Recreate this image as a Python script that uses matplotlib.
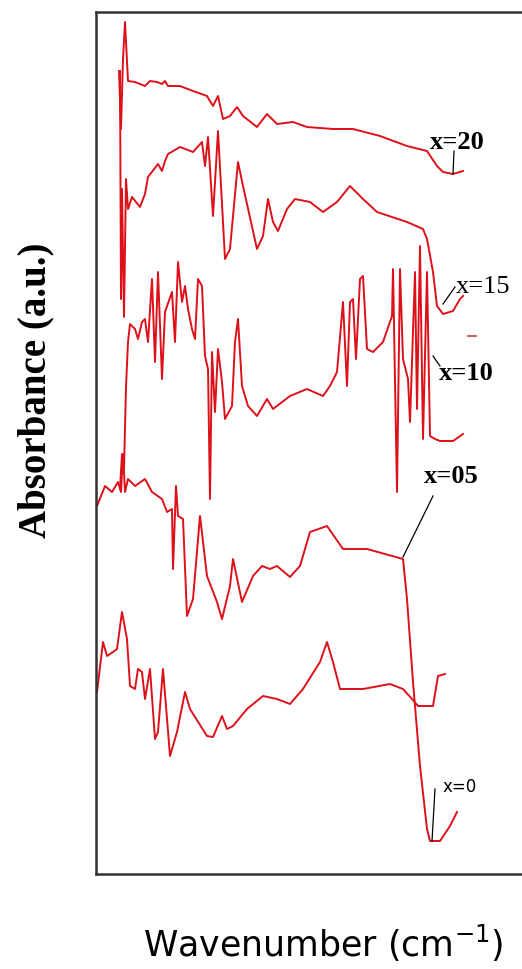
import matplotlib
matplotlib.use('Agg')
import matplotlib.pyplot as plt

# values (x: position along wavenumber axis, y: absorbance, both in image units)
x20_x = [119, 121, 123, 125, 128, 135, 145, 150, 157, 162, 165, 168, 175, 180, 193, 207, 213, 218, 223, 230,
         237, 243, 257, 267, 277, 293, 307, 333, 353, 380, 407, 427, 437, 443, 453, 463]
x20_y = [72, 130, 60, 23, 82, 83, 87, 82, 83, 85, 82, 87, 87, 87, 92, 97, 107, 97, 120, 117,
         108, 117, 128, 115, 125, 123, 128, 130, 130, 137, 147, 152, 167, 173, 175, 172]

x15_x = [120, 121, 122, 124, 126, 128, 132, 140, 145, 148, 158, 162, 165, 168, 180, 193, 202, 205, 208, 213,
         218, 225, 230, 238, 243, 257, 263, 268, 273, 278, 287, 295, 310, 323, 337, 350, 363, 377, 407, 423,
         427, 433, 437, 443, 453, 460, 463]
x15_y = [72, 300, 190, 318, 180, 210, 198, 208, 195, 178, 165, 172, 162, 155, 148, 153, 143, 167, 138, 217,
         132, 260, 250, 163, 187, 250, 237, 200, 223, 232, 210, 200, 203, 213, 203, 187, 200, 213, 223, 230,
         240, 273, 307, 315, 312, 300, 297]

x10_x = [120, 122, 124, 126, 128, 130, 135, 138, 142, 145, 148, 152, 155, 158, 162, 165, 172, 175, 178, 182,
         185, 188, 192, 195, 198, 202, 205, 208, 210, 212, 215, 218, 222, 225, 232, 235, 238, 242, 248, 257,
         267, 273, 290, 307, 323, 330, 337, 343, 347, 350, 353, 356, 360, 363, 367, 373, 383, 392, 393, 397,
         400, 403, 408, 410, 415, 417, 420, 423, 427, 430, 435, 440, 453, 463]
x10_y = [490, 455, 470, 388, 343, 325, 330, 340, 323, 320, 343, 280, 363, 273, 380, 313, 293, 343, 263, 303,
         287, 310, 330, 340, 280, 287, 357, 370, 500, 353, 413, 350, 383, 420, 407, 343, 320, 387, 407, 417,
         400, 410, 397, 390, 397, 387, 373, 303, 387, 303, 300, 360, 280, 277, 350, 353, 343, 317, 270, 493,
         270, 360, 380, 423, 273, 410, 247, 440, 273, 437, 440, 442, 442, 435]

x05_x = [97, 105, 112, 118, 121, 123, 125, 128, 135, 145, 152, 162, 167, 172, 173, 176, 178, 183, 187, 193,
         200, 207, 217, 222, 230, 233, 242, 253, 262, 270, 277, 290, 300, 310, 327, 343, 367, 403, 407, 413,
         420, 427, 430, 440, 450, 457]
x05_y = [507, 487, 493, 483, 493, 455, 493, 480, 487, 480, 493, 500, 513, 510, 570, 487, 517, 520, 617, 600,
         517, 577, 603, 620, 587, 560, 603, 577, 567, 570, 567, 578, 567, 533, 527, 550, 550, 560, 600, 683,
         767, 830, 842, 842, 827, 813]

x0_x = [97, 103, 107, 113, 117, 122, 127, 130, 135, 138, 142, 145, 150, 155, 158, 163, 170, 177, 185, 190,
        207, 213, 222, 227, 233, 247, 263, 277, 290, 303, 320, 327, 333, 340, 363, 390, 403, 412, 418, 433,
        438, 445]
x0_y = [693, 643, 657, 653, 650, 613, 640, 687, 690, 670, 673, 700, 670, 740, 733, 670, 757, 733, 693, 710,
        737, 738, 717, 730, 727, 710, 697, 700, 705, 690, 663, 643, 663, 690, 690, 685, 690, 700, 707, 707,
        677, 675]

labels = ['x=20', 'x=15', 'x=10', 'x=05', 'x=0']
label_pos = [(430, 142), (456, 287), (439, 373), (424, 477), (443, 787)]
pointers = [((454, 152), (453, 175)), ((455, 288), (443, 305)), ((433, 357), (440, 367)),
            ((433, 497), (403, 558)), ((435, 790), (432, 842))]

fig = plt.figure(figsize=(5.22, 9.70), dpi=100)
ax = fig.add_axes([96 / 522, 95 / 970, 1.05 - 96 / 522, 862.5 / 970])

red = '#dc1119'
for xs, ys in [(x20_x, x20_y), (x15_x, x15_y), (x10_x, x10_y), (x05_x, x05_y), (x0_x, x0_y)]:
    ax.plot(xs, ys, color=red, lw=1.4)

for (p0, p1) in pointers:
    ax.plot([p0[0], p1[0]], [p0[1], p1[1]], color='black', lw=0.9)
ax.plot([468, 476], [337, 337], color='#c04040', lw=1.2)

for lab, pos in zip(labels, label_pos):
    if lab == 'x=0':
        ax.text(pos[0], pos[1], lab, fontsize=12, family='DejaVu Sans', va='center', ha='left')
    else:
        ax.text(pos[0], pos[1], lab, fontsize=19, family='Liberation Serif',
                weight='normal' if lab == 'x=15' else 'bold', va='center', ha='left')

ax.set_xlim(96, 96 + (1.05 - 96 / 522) * 522)
ax.set_ylim(875, 12.5)
ax.set_xticks([])
ax.set_yticks([])
for s in ax.spines.values():
    s.set_linewidth(1.8)
    s.set_color('#333333')

fig.text(36 / 522, 1 - 390 / 970, 'Absorbance (a.u.)', rotation=90, fontsize=28,
         family='Liberation Serif', weight='bold', ha='center', va='center')
fig.text(323 / 522, 1 - 943 / 970, 'Wavenumber (cm$^{-1}$)', fontsize=25,
         family='DejaVu Sans', ha='center', va='center')

plt.savefig('out.png', dpi=100)
